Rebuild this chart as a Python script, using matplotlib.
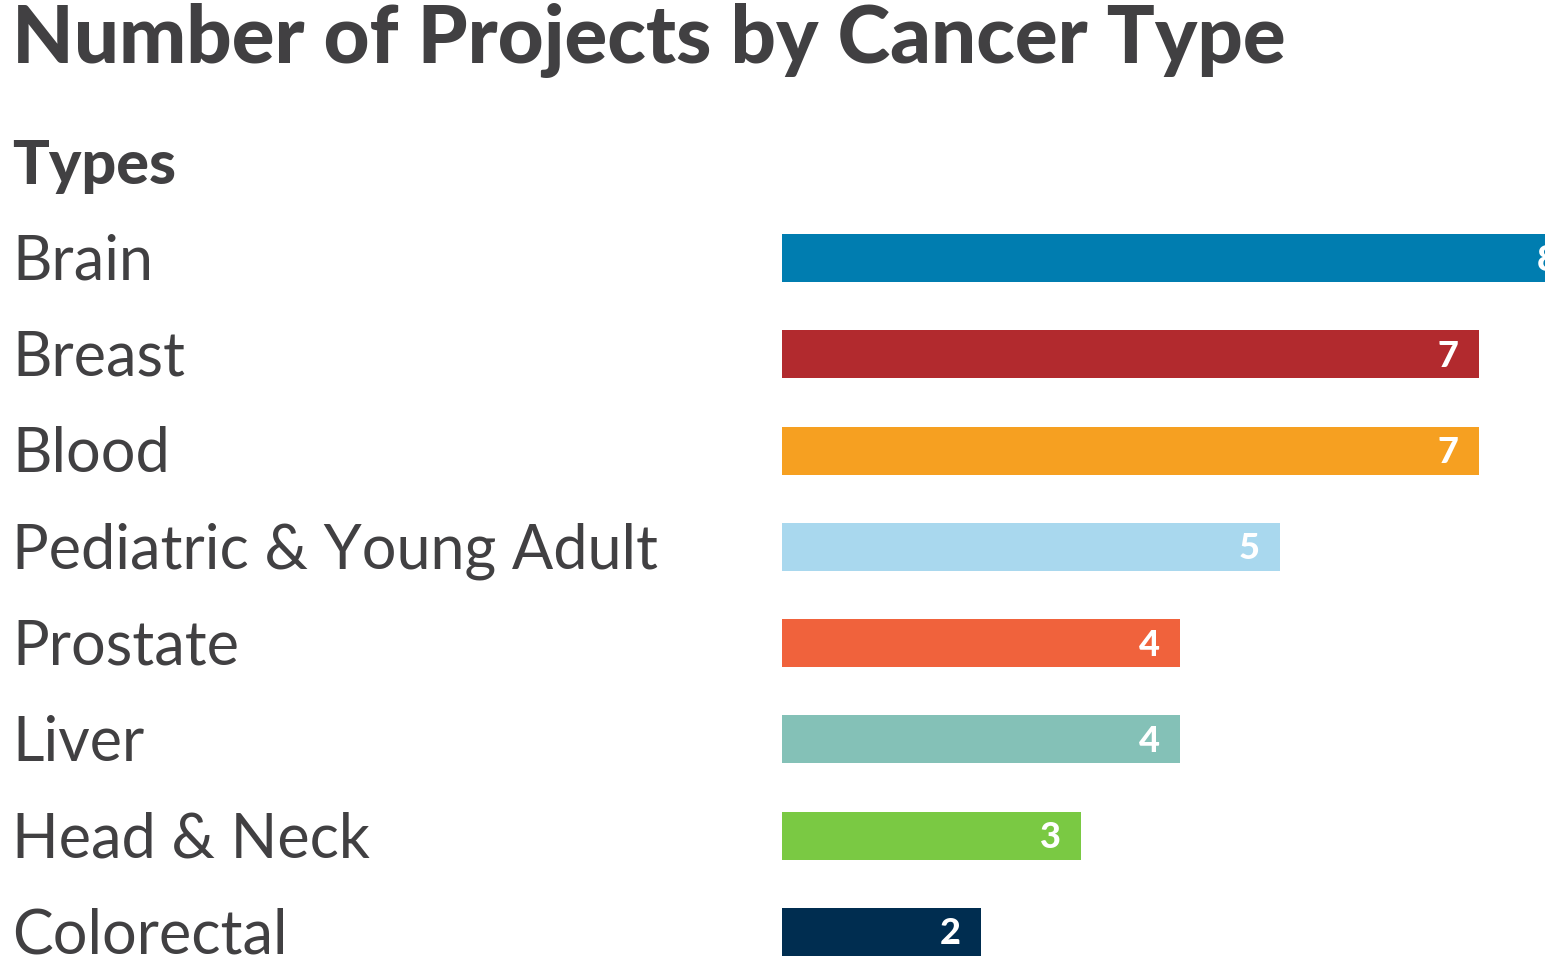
import matplotlib.pyplot as plt
from matplotlib.transforms import blended_transform_factory

# data
types = ['Brain', 'Breast', 'Blood', 'Pediatric & Young Adult', 'Prostate',
         'Liver', 'Head & Neck', 'Colorectal']
counts = [8, 7, 7, 5, 4, 4, 3, 2]
colors = ['#007DB0', '#B22A2E', '#F6A021', '#A9D8EE', '#F0623C',
          '#84C1B7', '#7AC943', '#002D50']

txt = '#414042'
plt.rcParams['font.family'] = ['Lato', 'DejaVu Sans']

fig = plt.figure(figsize=(15.45, 9.8), dpi=100)
ax = fig.add_axes([782 / 1545, 0, 1 - 782 / 1545, 1 - 210 / 980])

y = list(range(len(types)))
ax.barh(y, counts, height=0.5, color=colors)
ax.set_xlim(0, (1545 - 782) / 99.5)
ax.set_ylim(len(types) - 0.5, -0.5)
ax.axis('off')

trans = blended_transform_factory(fig.transFigure, ax.transData)
for yi, name, c in zip(y, types, counts):
    # value label inside the bar end (Brain's gets clipped like the original)
    ax.annotate(str(c), (c, yi), xytext=(-20, -2), textcoords='offset pixels',
                ha='right', va='center', color='white', fontsize=26,
                fontweight='black', annotation_clip=False, clip_on=True)
    ax.annotate(name, (12 / 1545, yi), xycoords=trans, xytext=(0, -4),
                textcoords='offset pixels', ha='left', va='center',
                fontsize=44, color=txt)

fig.text(12 / 1545, 1 - 40 / 980, 'Number of Projects by Cancer Type',
         ha='left', va='center', fontsize=57.5, fontweight='black', color=txt)
fig.text(12 / 1545, 1 - 166 / 980, 'Types', ha='left', va='center',
         fontsize=44, fontweight='black', color=txt)

fig.savefig('out.png', dpi=100)
